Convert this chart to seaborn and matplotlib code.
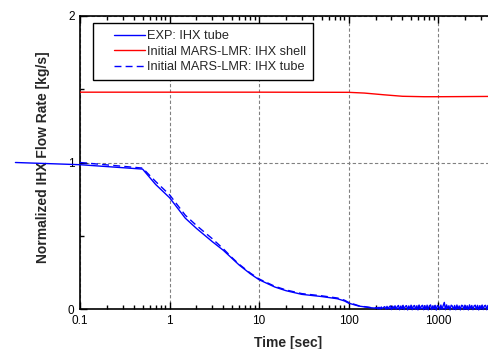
import numpy as np
import pandas as pd
import matplotlib
matplotlib.use("Agg")
import matplotlib.pyplot as plt
import seaborn as sns
from matplotlib.ticker import FixedLocator, NullFormatter, LogLocator
from matplotlib.legend_handler import HandlerLine2D
from matplotlib.lines import Line2D

# --- data ---
exp_t = [0.019, 0.1, 0.5, 0.7, 1.0, 1.5, 2.0, 3.0, 4.0, 5.0, 6.0, 8.0, 10.0, 15.0, 20.0,
         30.0, 50.0, 75.0, 90.0, 100.0, 130.0, 180.0]
exp_y = [1.0, 0.985, 0.955, 0.85, 0.76, 0.62, 0.55, 0.46, 0.40, 0.345, 0.30, 0.24, 0.20,
         0.15, 0.125, 0.10, 0.085, 0.07, 0.055, 0.04, 0.02, 0.008]
noise_y = [0.006, 0.010, 0.001, 0.012, -0.001, 0.014, 0.002, 0.011, 0.016, -0.002,
           0.018, 0.000, 0.015, 0.021, -0.004, 0.019, 0.003, 0.022, -0.003, 0.017,
           0.024, -0.005, 0.020, 0.001, 0.025, -0.004, 0.018, 0.023, -0.006, 0.021,
           0.002, 0.026, -0.005, 0.019, 0.024, -0.003, 0.022, -0.006, 0.027, 0.000,
           0.020, 0.025, -0.005, 0.023, -0.002, 0.026, -0.006, 0.021, 0.028, -0.004,
           0.022, 0.001, 0.025, -0.007, 0.024, 0.019, -0.004, 0.027, -0.002, 0.023,
           0.045, -0.005, 0.028, 0.003, 0.022, -0.006, 0.026, 0.020, -0.003, 0.024,
           -0.005, 0.027, 0.001, 0.021, -0.006, 0.025, 0.023, -0.004, 0.026, -0.002,
           0.022, -0.006, 0.028, 0.002, 0.024, -0.005, 0.021, 0.026, -0.003, 0.025,
           -0.006, 0.023, 0.000, 0.027, -0.004, 0.022, 0.025, -0.005, 0.024, 0.012]
noise_t = list(np.geomspace(200, 3700, len(noise_y)))

shell_t = [0.1, 1.0, 10.0, 100.0, 150.0, 250.0, 400.0, 700.0, 1000.0, 2000.0, 3700.0]
shell_y = [1.48, 1.48, 1.48, 1.479, 1.474, 1.462, 1.452, 1.449, 1.449, 1.450, 1.451]

tube_t = [0.1, 0.5, 0.7, 1.0, 1.5, 2.0, 3.0, 4.0, 5.0, 6.0, 8.0, 10.0, 15.0, 20.0, 30.0,
          50.0, 75.0, 90.0, 100.0, 130.0, 180.0, 300.0, 3700.0]
tube_y = [1.0, 0.962, 0.87, 0.78, 0.64, 0.57, 0.48, 0.41, 0.35, 0.305, 0.245, 0.205,
          0.155, 0.13, 0.105, 0.09, 0.075, 0.06, 0.045, 0.022, 0.009, 0.003, 0.003]

x_ticks = [0.1, 1, 10, 100, 1000]
x_labels = ["0.1", "1", "10", "100", "1000"]
y_ticks = [0, 1, 2]
y_labels = ["0", "1", "2"]

legend_labels = ["EXP: IHX tube", "Initial MARS-LMR: IHX shell", "Initial MARS-LMR: IHX tube"]


class RightLineHandler(HandlerLine2D):
    """Legend line drawn only in the right part of the handle box."""
    line_frac = 0.69

    def create_artists(self, legend, orig_handle, xdescent, ydescent, width, height,
                       fontsize, trans):
        artists = super().create_artists(legend, orig_handle, xdescent, ydescent,
                                         width, height, fontsize, trans)
        x0 = -xdescent
        x1 = -xdescent + width
        start = x1 - (x1 - x0) * self.line_frac
        for a in artists:
            if isinstance(a, Line2D):
                n = len(a.get_xdata())
                if n >= 2:
                    a.set_xdata(np.linspace(start, x1, n))
                elif n == 1:
                    a.set_xdata([0.5 * (start + x1)])
        return artists


sns.set_style("ticks")
plt.rcParams["font.family"] = ["Liberation Sans", "DejaVu Sans"]

fig = plt.figure(figsize=(4.89, 3.49), dpi=100)
ax = fig.add_axes([80 / 489, 1 - 309 / 349, 409 / 489, 293 / 349])

exp_df = pd.DataFrame({"t": exp_t + noise_t, "y": exp_y + noise_y})
shell_df = pd.DataFrame({"t": shell_t, "y": shell_y})
tube_df = pd.DataFrame({"t": tube_t, "y": tube_y})

sns.lineplot(data=exp_df, x="t", y="y", ax=ax, color="#0000ff", lw=1.0,
             estimator=None, sort=False, clip_on=False, label=legend_labels[0], zorder=4)
sns.lineplot(data=shell_df, x="t", y="y", ax=ax, color="#ff0000", lw=1.0,
             estimator=None, sort=False, label=legend_labels[1], zorder=3)
sns.lineplot(data=tube_df, x="t", y="y", ax=ax, color="#0000ff", lw=1.0,
             linestyle=(0, (5, 3)), estimator=None, sort=False,
             label=legend_labels[2], zorder=3)

ax.set_xscale("log")
ax.set_xlim(0.1, 3700)
ax.set_ylim(0, 2)

ax.xaxis.set_major_locator(FixedLocator(x_ticks))
ax.set_xticklabels(x_labels)
ax.xaxis.set_minor_locator(LogLocator(base=10, subs=np.arange(2, 10)))
ax.xaxis.set_minor_formatter(NullFormatter())
ax.yaxis.set_major_locator(FixedLocator(y_ticks))
ax.set_yticklabels(y_labels)
ax.yaxis.set_minor_locator(FixedLocator([0.5, 1.5]))

ax.tick_params(axis="both", which="major", direction="in", length=5, width=1,
               labelsize=8.5, top=True, colors="black", pad=4)
ax.tick_params(axis="both", which="minor", direction="in", length=3, width=1,
               top=True, colors="black")
ax.tick_params(axis="y", which="both", right=False, left=True)

ax.grid(True, which="major", color="#808080", linestyle=(0, (3, 2)), lw=0.8)

for side in ["left", "top", "bottom"]:
    ax.spines[side].set_color("black")
    ax.spines[side].set_linewidth(1.2)
ax.spines["right"].set_visible(False)

ax.set_xlabel("Time [sec]", fontsize=10, fontweight="bold")
ax.set_ylabel("Normalized IHX Flow Rate [kg/s]", fontsize=10, fontweight="bold")
ax.xaxis.set_label_coords(0.508, -0.092)
ax.yaxis.set_label_coords(-0.074, 0.517)

handles, labels = ax.get_legend_handles_labels()
leg = ax.legend(handles, labels, loc="upper left", bbox_to_anchor=(0.032, 0.976),
                borderaxespad=0, fontsize=9.2, frameon=True, fancybox=False,
                edgecolor="black", framealpha=1, handlelength=3.5, handletextpad=0.2,
                borderpad=0.55, labelspacing=0.28,
                handler_map={Line2D: RightLineHandler()})
leg.get_frame().set_linewidth(1.0)

fig.savefig("out.png", dpi=100)
